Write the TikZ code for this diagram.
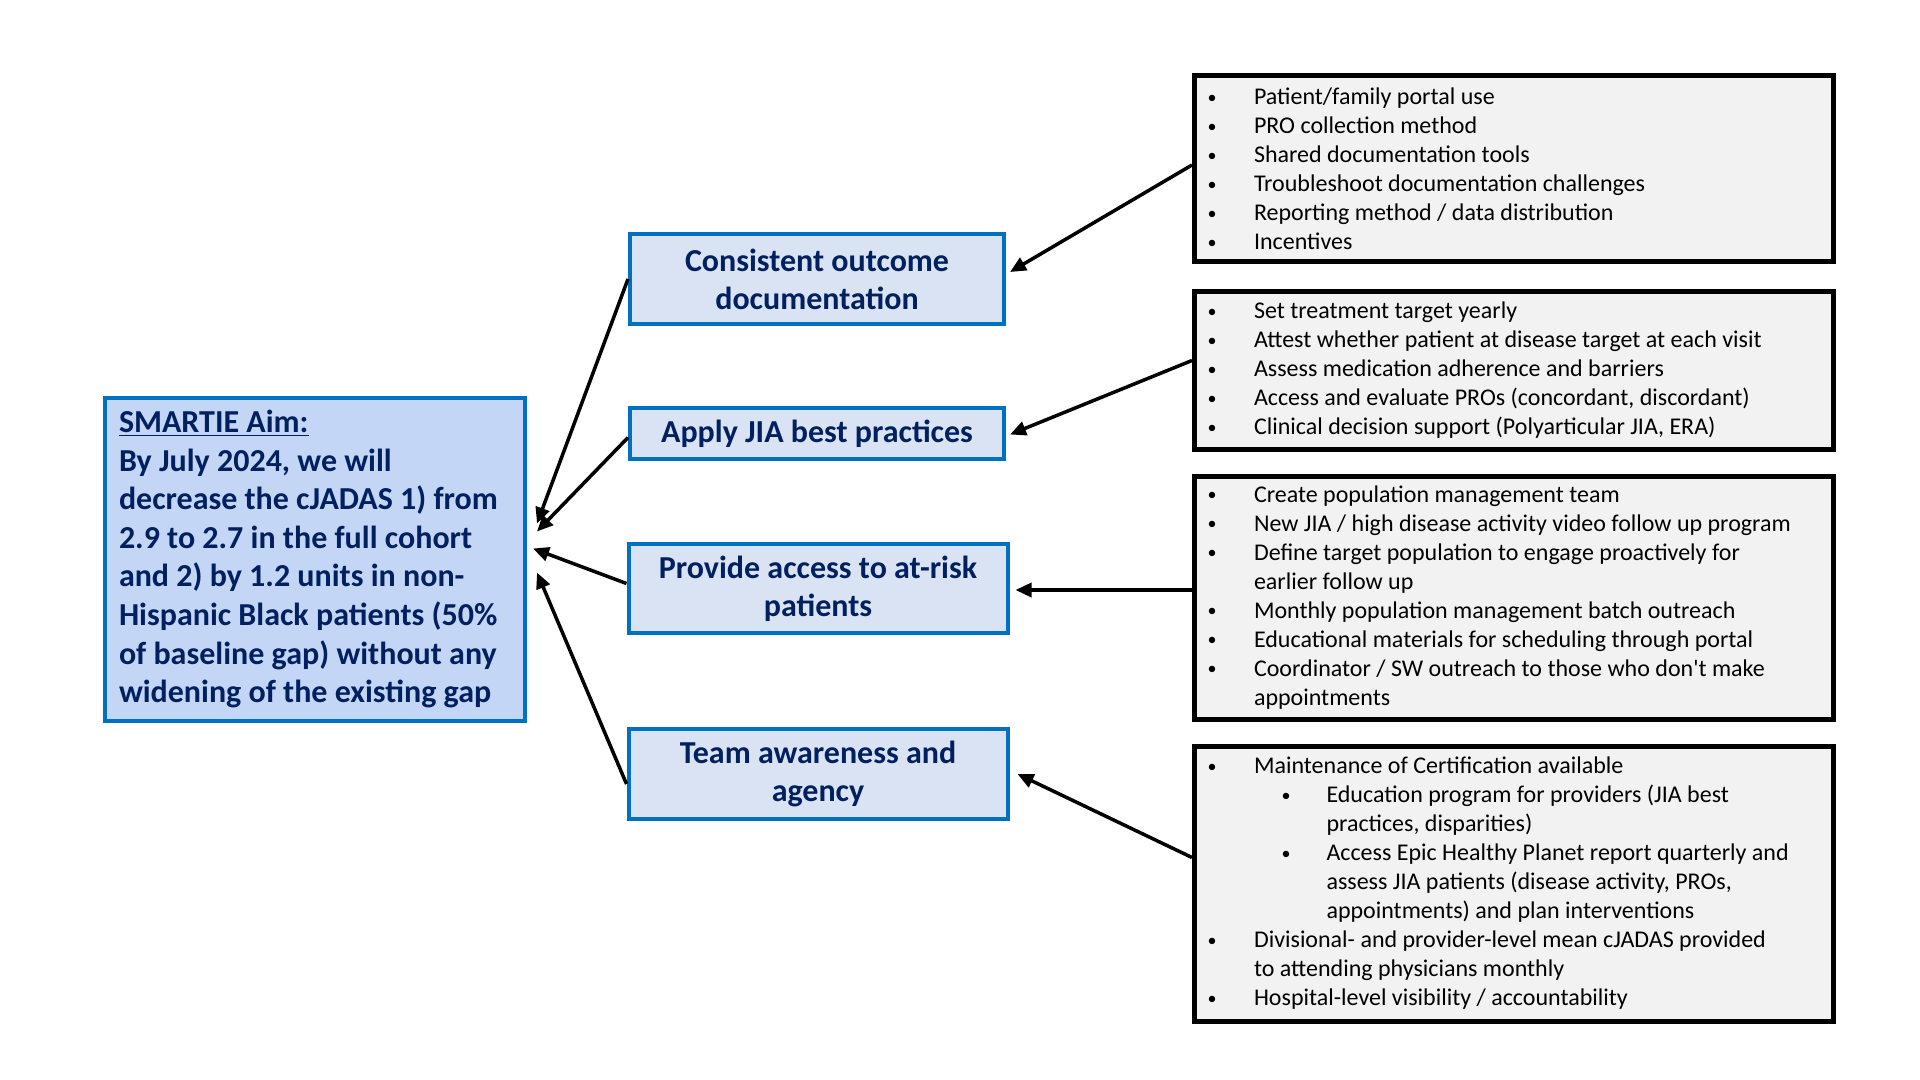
\documentclass[tikz,border=0pt]{standalone}
\usepackage{fontspec}
\setmainfont{Carlito}
\usetikzlibrary{arrows.meta,calc}
\definecolor{navy}{HTML}{002060}
\definecolor{bluebd}{HTML}{0070C0}
\definecolor{aimfill}{RGB}{196,214,245}
\definecolor{midfill}{HTML}{DAE3F3}
\definecolor{listfill}{HTML}{F2F2F2}
\newcommand{\natsp}{\spaceskip=0pt\xspaceskip=0pt\relax}
\newcommand{\bgl}{\raisebox{0.8pt}{\fontsize{9}{9}\selectfont\textbullet}}
\newcommand{\bu}{\makebox[23.75pt][l]{\hspace*{0.5pt}\bgl}}
\newcommand{\ind}{\hspace*{23.75pt}}
\newcommand{\sbu}{\hspace*{37.5pt}\makebox[22.5pt][l]{\bgl}}
\newcommand{\sind}{\hspace*{60pt}}
\tikzset{
  aimbox/.style={draw=bluebd, line width=2pt, fill=aimfill, text=navy,
    font=\fontsize{16}{19.3}\selectfont\bfseries, align=left,
    inner xsep=7pt, text width=196pt, minimum height=161.5pt},
  midbox/.style={draw=bluebd, line width=2pt, fill=midfill, text=navy,
    font=\fontsize{16}{19}\selectfont\bfseries, align=center, inner sep=2pt},
  listbox/.style={draw=black, line width=2.5pt, fill=listfill, text=black,
    font=\fontsize{12}{14.5}\selectfont, align=left,
    inner xsep=6pt, text width=307.5pt},
  arr/.style={-{Triangle[length=8pt,width=7pt]}, line width=1.75pt, draw=black}
}
\begin{document}
\begin{tikzpicture}[x=0.5pt,y=-0.5pt]
\useasboundingbox[fill=white] (0,0) rectangle (1920,1080);

\node[aimbox] (S) at (315,559) {\natsp\underline{SMARTIE Aim:}\\
By July 2024, we will\\
decrease the cJADAS 1) from\\
2.9 to 2.7 in the full cohort\\
and 2) by 1.2 units in non-\\
Hispanic Black patients (50\%\\
of baseline gap) without any\\
widening of the existing gap};

\node[midbox, minimum width=187pt, minimum height=45.25pt] (B1) at (817,279) {Consistent outcome\\documentation};
\node[midbox, minimum width=187pt, minimum height=25.5pt] (B2) at (817,433.5) {Apply JIA best practices};
\node[midbox, minimum width=189.5pt, minimum height=44.5pt] (B3) at (818,588.5) {Provide access to at-risk\\patients};
\node[midbox, minimum width=189.5pt, minimum height=45pt] (B4) at (818,774) {Team awareness and\\agency};

\node[listbox, minimum height=93pt] (R1) at (1514,169) {\natsp
\bu Patient/family portal use\\
\bu PRO collection method\\
\bu Shared documentation tools\\
\bu Troubleshoot documentation challenges\\
\bu Reporting method / data distribution\\
\bu Incentives};

\node[listbox, minimum height=78.5pt] (R2) at (1514,370.5) {\natsp
\bu Set treatment target yearly\\
\bu Attest whether patient at disease target at each visit\\
\bu Assess medication adherence and barriers\\
\bu Access and evaluate PROs (concordant, discordant)\\
\bu Clinical decision support (Polyarticular JIA, ERA)};

\node[listbox, minimum height=121.5pt] (R3) at (1514,597.5) {\natsp
\bu Create population management team\\
\bu New JIA / high disease activity video follow up program\\
\bu Define target population to engage proactively for\\
\ind earlier follow up\\
\bu Monthly population management batch outreach\\
\bu Educational materials for scheduling through portal\\
\bu Coordinator / SW outreach to those who don\textquotesingle t make\\
\ind appointments};

\node[listbox, minimum height=137.5pt] (R4) at (1514,883.5) {\natsp
\bu Maintenance of Certification available\\
\sbu Education program for providers (JIA best\\
\sind practices, disparities)\\
\sbu Access Epic Healthy Planet report quarterly and\\
\sind assess JIA patients (disease activity, PROs,\\
\sind appointments) and plan interventions\\
\bu Divisional- and provider-level mean cJADAS provided\\
\ind to attending physicians monthly\\
\bu Hospital-level visibility / accountability};

\draw[arr] ($(R1.west)+(0,-4)$) -- ($(B1.east)+(4,-7)$);
\draw[arr] ($(R2.west)+(0,-10)$) -- ($(B2.east)+(4,1)$);
\draw[arr] ($(R3.west)+(0,-7.5)$) -- ($(B3.east)+(6,1.5)$);
\draw[arr] ($(R4.west)+(0,-26)$) -- ($(B4.east)+(8,0)$);

\draw[arr] (B1.west) -- ($(S.east)+(10,-35.5)$);
\draw[arr] ($(B2.west)+(0,4)$) -- ($(S.east)+(10,-27.5)$);
\draw[arr] ($(B3.west)+(0,-5)$) -- ($(S.east)+(6,-10.5)$);
\draw[arr] ($(B4.west)+(0,10)$) -- ($(S.east)+(10,13.5)$);
\end{tikzpicture}
\end{document}
